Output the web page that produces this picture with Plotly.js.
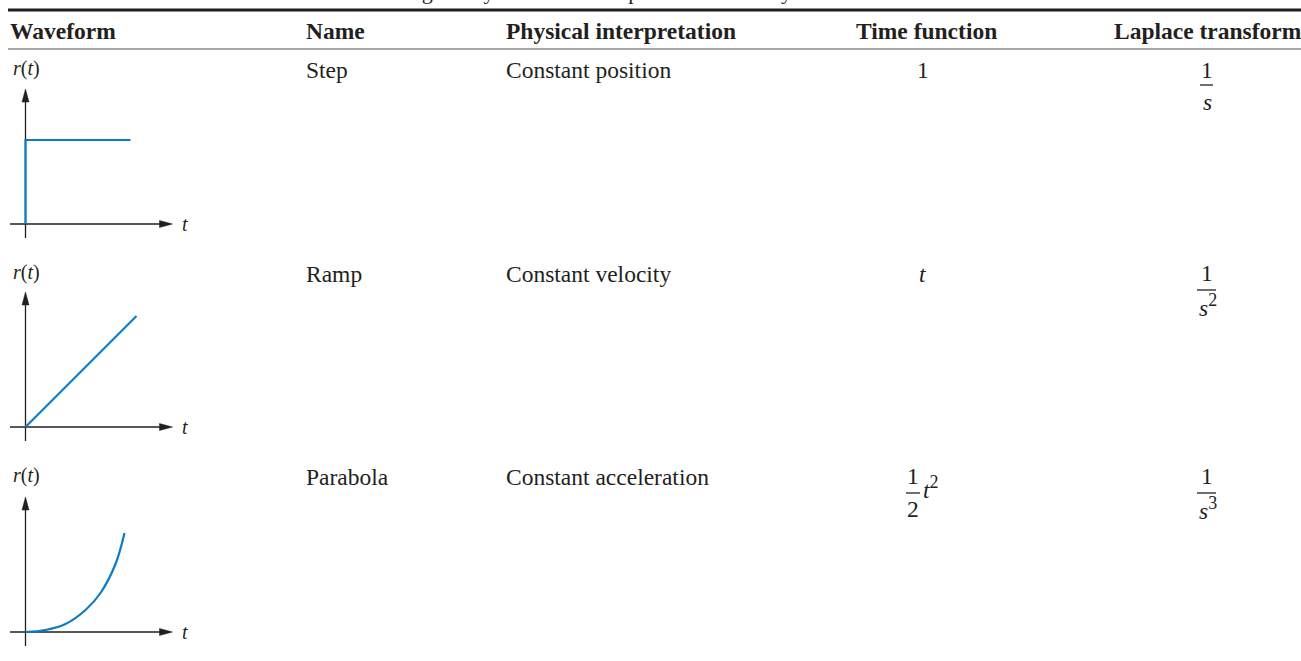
<!DOCTYPE html>
<html>
<head>
<meta charset="utf-8">
<script src="https://cdn.plot.ly/plotly-3.0.1.min.js"></script>
<style>
html,body{margin:0;padding:0;background:#fff;}
#chart{width:1301px;height:661px;}
</style>
</head>
<body>
<div id="chart"></div>
<script>
// ---------- data ----------
const caption = "Test waveforms for evaluating steady-state errors of position control systems";
const headers = ["Waveform", "Name", "Physical interpretation", "Time function", "Laplace transform"];
const names = ["Step", "Ramp", "Parabola"];
const interpretations = ["Constant position", "Constant velocity", "Constant acceleration"];

// waveform samples (t, r in arbitrary units)
const stepT = [0, 0, 1.05];
const stepR = [0, 0.84, 0.84];
const rampT = [0, 1.11];
const rampR = [0, 1.11];
const paraT = [0, 0.2, 0.4, 0.6, 0.75, 0.9, 0.99];
const paraR = [0, 0.02, 0.08, 0.22, 0.39, 0.68, 0.99];

// ---------- layout helpers ----------
const W = 1301, H = 661;
const px = x => x / W;
const py = y => 1 - y / H;
const ink = "#231f20";
const blue = "#0d7ac8";
const serif = "'Liberation Serif', 'Times New Roman', serif";
const FS = 23.5;

const rowOrigins = [224, 427, 632];   // pixel y of each mini-plot time axis
const rowText = [70, 274, 477];       // pixel y centre of text in each row

const series = [[stepT, stepR, "linear"], [rampT, rampR, "linear"], [paraT, paraR, "spline"]];

const traces = [];
const layout = {
  width: W, height: H,
  margin: {l: 0, r: 0, t: 0, b: 0},
  paper_bgcolor: "#fff", plot_bgcolor: "rgba(0,0,0,0)",
  showlegend: false,
  annotations: [], shapes: []
};

series.forEach((s, i) => {
  const k = i === 0 ? "" : String(i + 1);
  traces.push({
    x: s[0], y: s[1], xaxis: "x" + k, yaxis: "y" + k,
    type: "scatter", mode: "lines",
    line: {color: blue, width: 2.2, shape: s[2], smoothing: 1},
    hoverinfo: "skip"
  });
  const Y0 = rowOrigins[i];
  layout["xaxis" + k] = {domain: [0, px(200)], range: [-0.255, 1.745], visible: false, fixedrange: true};
  layout["yaxis" + k] = {domain: [py(Y0 + 20), py(Y0 - 180)], range: [-0.2, 1.8], visible: false, fixedrange: true};
  const xr = "x" + k, yr = "y" + k;
  // time axis + arrowhead
  layout.shapes.push({type: "line", xref: xr, yref: yr, x0: -0.155, x1: 1.38, y0: 0, y1: 0,
    line: {color: ink, width: 1.3}, layer: "below"});
  layout.shapes.push({type: "path", xref: xr, yref: yr, path: "M 1.47 0 L 1.34 0.035 L 1.34 -0.035 Z",
    fillcolor: ink, line: {color: ink, width: 0.5}, layer: "below"});
  // r axis + arrowhead
  layout.shapes.push({type: "line", xref: xr, yref: yr, x0: 0, x1: 0, y0: -0.14, y1: 1.26,
    line: {color: ink, width: 1.3}, layer: "below"});
  layout.shapes.push({type: "path", xref: xr, yref: yr, path: "M 0 1.35 L -0.035 1.22 L 0.035 1.22 Z",
    fillcolor: ink, line: {color: ink, width: 0.5}, layer: "below"});
  // axis labels
  layout.annotations.push({xref: "paper", yref: "paper", x: px(26), y: py(rowText[i] - 2), xanchor: "center", yanchor: "middle",
    text: "<i>r</i>(<i>t</i>)", showarrow: false, font: {family: serif, size: 20, color: ink}});
  layout.annotations.push({xref: "paper", yref: "paper", x: px(180), y: py(Y0), xanchor: "left", yanchor: "middle",
    text: "<i>t</i>", showarrow: false, font: {family: serif, size: 20, color: ink}});
  // name + interpretation
  layout.annotations.push({xref: "paper", yref: "paper", x: px(304), y: py(rowText[i]), xanchor: "left", yanchor: "middle",
    text: names[i], showarrow: false, font: {family: serif, size: FS, color: ink}});
  layout.annotations.push({xref: "paper", yref: "paper", x: px(504), y: py(rowText[i]), xanchor: "left", yanchor: "middle",
    text: interpretations[i], showarrow: false, font: {family: serif, size: FS, color: ink}});
});

// caption (only descenders visible above the top rule)
layout.annotations.push({xref: "paper", yref: "paper", x: px(163), y: py(6), xanchor: "left", yanchor: "bottom",
  text: caption, showarrow: false, font: {family: serif, size: 22, color: ink}});

// header row
const headerX = [8, 304, 504, 854, 1112];
headers.forEach((h, i) => {
  layout.annotations.push({xref: "paper", yref: "paper", x: px(headerX[i]), y: py(31), xanchor: "left", yanchor: "middle",
    text: "<b>" + h + "</b>", showarrow: false, font: {family: serif, size: FS, color: ink}});
});

// rules
layout.shapes.push({type: "line", xref: "paper", yref: "paper", x0: px(8), x1: 1, y0: py(10), y1: py(10), line: {color: ink, width: 3}});
layout.shapes.push({type: "line", xref: "paper", yref: "paper", x0: px(8), x1: 1, y0: py(49), y1: py(49), line: {color: "#8a8a8a", width: 1.5}});

// formula helpers
const txt = (x, y, t, size) => layout.annotations.push({xref: "paper", yref: "paper", x: px(x), y: py(y), xanchor: "center", yanchor: "middle",
  text: t, showarrow: false, font: {family: serif, size: size || FS, color: ink}});
const bar = (x0, x1, y) => layout.shapes.push({type: "line", xref: "paper", yref: "paper", x0: px(x0), x1: px(x1), y0: py(y), y1: py(y), line: {color: ink, width: 1.3}});
const sup = d => "<sup><span style='font-size:18px'>" + d + "</span></sup>";

// time function column
txt(923, rowText[0], "1");
txt(923, rowText[1], "<i>t</i>");
txt(913, 476, "1");
bar(906, 920, 493);
txt(913, 509, "2");
layout.annotations.push({xref: "paper", yref: "paper", x: px(921), y: py(487), xanchor: "left", yanchor: "middle",
  text: "<i>t</i>" + sup("2"), showarrow: false, font: {family: serif, size: FS, color: ink}});

// Laplace transform column
txt(1207, 70, "1");
bar(1200, 1213, 85);
txt(1207, 102, "<i>s</i>");
txt(1207, 273, "1");
bar(1197, 1216, 290);
layout.annotations.push({xref: "paper", yref: "paper", x: px(1197), y: py(305), xanchor: "left", yanchor: "middle",
  text: "<i>s</i>" + sup("2"), showarrow: false, font: {family: serif, size: FS, color: ink}});
txt(1207, 476, "1");
bar(1197, 1216, 493);
layout.annotations.push({xref: "paper", yref: "paper", x: px(1197), y: py(508), xanchor: "left", yanchor: "middle",
  text: "<i>s</i>" + sup("3"), showarrow: false, font: {family: serif, size: FS, color: ink}});

Plotly.newPlot("chart", traces, layout, {displayModeBar: false, staticPlot: true});
</script>
</body>
</html>
